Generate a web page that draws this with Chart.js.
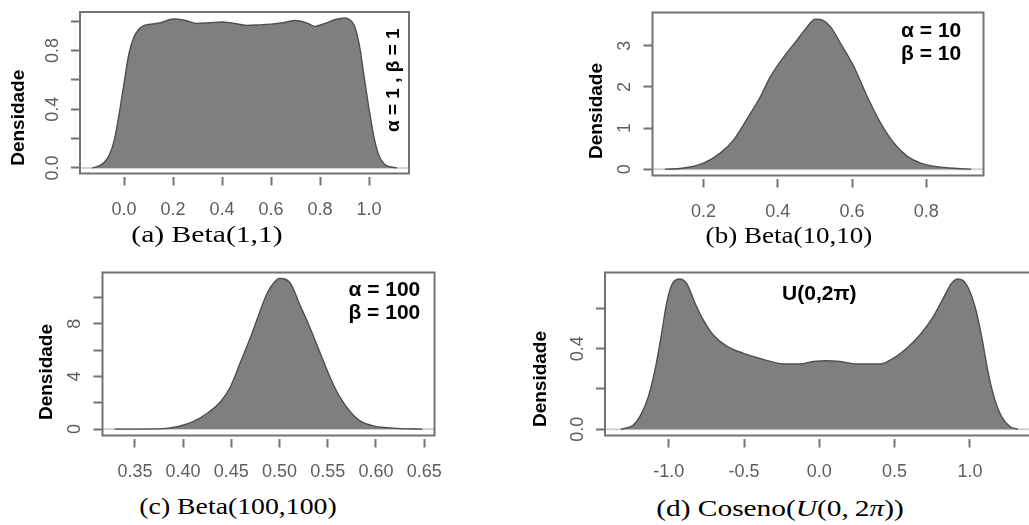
<!DOCTYPE html>
<html>
<head>
<meta charset="utf-8">
<script src="https://cdn.jsdelivr.net/npm/chart.js@4.4.1/dist/chart.umd.min.js"></script>
<style>
  html, body { margin: 0; padding: 0; background: #fff; }
  #page { position: relative; width: 1029px; height: 525px; overflow: hidden; background: #fff; }
  #page canvas { position: absolute; filter: blur(0.3px); }
  .cap {
    position: absolute; white-space: nowrap; color: #000;
    font-family: 'Liberation Serif', 'Times New Roman', serif; font-size: 23px; line-height: 1;
  }
</style>
</head>
<body>
<div id="page">
  <canvas id="panelA" width="420" height="225" style="left:0px;top:0px"></canvas>
  <canvas id="panelB" width="440" height="225" style="left:560px;top:0px"></canvas>
  <canvas id="panelC" width="460" height="235" style="left:0px;top:255px"></canvas>
  <canvas id="panelD" width="550" height="235" style="left:500px;top:255px"></canvas>

  <div class="cap" data-w="152" style="left:206.7px;top:234px">(a) Beta(1,1)</div>
  <div class="cap" data-w="167" style="left:789px;top:235px">(b) Beta(10,10)</div>
  <div class="cap" data-w="198" style="left:237.5px;top:506px">(c) Beta(100,100)</div>
  <div class="cap" data-w="248" style="left:780px;top:508px">(d) Coseno(<i>U</i>(0,&thinsp;2<i>π</i>))</div>
</div>

<script>
// ---- Kernel density estimates of the simulated samples ----
// (a) Beta(1,1)
const betaA_x = [-0.13, -0.10, -0.08, -0.06, -0.04, -0.02, 0.00, 0.02, 0.04, 0.06, 0.08, 0.10, 0.15, 0.20, 0.25,
                 0.30, 0.35, 0.40, 0.45, 0.50, 0.55, 0.60, 0.65, 0.70, 0.75, 0.78, 0.82, 0.86, 0.90, 0.92,
                 0.94, 0.96, 0.98, 1.00, 1.02, 1.04, 1.06, 1.08, 1.113];
const betaA_y = [0.000, 0.015, 0.04, 0.09, 0.19, 0.37, 0.58, 0.78, 0.89, 0.945, 0.97, 0.978, 0.99, 1.015, 1.005,
                 0.985, 0.99, 0.995, 0.985, 0.972, 0.975, 0.98, 0.99, 1.005, 0.985, 0.965, 0.985, 1.01, 1.022, 1.012,
                 0.97, 0.84, 0.62, 0.40, 0.21, 0.085, 0.03, 0.01, 0.000];

// (b) Beta(10,10)
const betaB_x = [0.096, 0.142, 0.200, 0.245, 0.281, 0.321, 0.353, 0.380, 0.416, 0.452, 0.479, 0.501,
                 0.515, 0.542, 0.569, 0.605, 0.641, 0.677, 0.713, 0.749, 0.785, 0.830, 0.875, 0.921];
const betaB_y = [0.00, 0.02, 0.145, 0.39, 0.71, 1.28, 1.76, 2.25, 2.73, 3.14, 3.46, 3.65,
                 3.64, 3.46, 3.06, 2.49, 1.76, 1.12, 0.63, 0.31, 0.145, 0.06, 0.02, 0.00];

// (c) Beta(100,100)
const betaC_x = [0.329, 0.375, 0.395, 0.411, 0.425, 0.439, 0.449, 0.459, 0.469, 0.478, 0.487, 0.495, 0.500,
                 0.511, 0.521, 0.531, 0.541, 0.552, 0.562, 0.573, 0.583, 0.597, 0.612, 0.625, 0.648];
const betaC_y = [0.00, 0.02, 0.20, 0.58, 1.20, 2.10, 3.20, 5.00, 6.80, 8.60, 10.30, 11.20, 11.45,
                 11.10, 9.45, 7.80, 6.00, 4.00, 2.50, 1.34, 0.65, 0.25, 0.10, 0.04, 0.00];

// (d) cos(U), U ~ U(0, 2π)
const cosD_x = [-1.318, -1.305, -1.235, -1.180, -1.135, -1.091, -1.047, -1.014, -0.980, -0.929, -0.881, -0.825,
                -0.770, -0.704, -0.615, -0.504, -0.372, -0.239, -0.128, -0.040, 0.049, 0.137, 0.248, 0.403,
                0.491, 0.580, 0.668, 0.757, 0.823, 0.879, 0.923, 0.979, 1.034, 1.078, 1.122, 1.166, 1.210,
                1.266, 1.310, 1.318];
const cosD_y = [0.000, 0.002, 0.021, 0.079, 0.162, 0.294, 0.476, 0.625, 0.716, 0.746, 0.724, 0.625,
                0.542, 0.468, 0.413, 0.377, 0.347, 0.324, 0.324, 0.336, 0.340, 0.336, 0.324, 0.324,
                0.352, 0.402, 0.468, 0.559, 0.650, 0.725, 0.746, 0.716, 0.608, 0.460, 0.278, 0.145, 0.063,
                0.013, 0.002, 0.000];

// ---- Axis ticks and their labels ----
const ticksA_x = [0, 0.2, 0.4, 0.6, 0.8, 1.0];
const labelsA_x = ['0.0', '0.2', '0.4', '0.6', '0.8', '1.0'];
const ticksA_y = [0, 0.2, 0.4, 0.6, 0.8, 1.0];
const labelsA_y = ['0.0', '', '0.4', '', '0.8', ''];

const ticksB_x = [0.2, 0.4, 0.6, 0.8];
const labelsB_x = ['0.2', '0.4', '0.6', '0.8'];
const ticksB_y = [0, 1, 2, 3];
const labelsB_y = ['0', '1', '2', '3'];

const ticksC_x = [0.35, 0.40, 0.45, 0.50, 0.55, 0.60, 0.65];
const labelsC_x = ['0.35', '0.40', '0.45', '0.50', '0.55', '0.60', '0.65'];
const ticksC_y = [0, 2, 4, 6, 8, 10];
const labelsC_y = ['0', '', '4', '', '8', ''];

const ticksD_x = [-1.0, -0.5, 0.0, 0.5, 1.0];
const labelsD_x = ['-1.0', '-0.5', '0.0', '0.5', '1.0'];
const ticksD_y = [0, 0.2, 0.4, 0.6];
const labelsD_y = ['0.0', '', '0.4', ''];

// ---- Text ----
const yAxisTitle = 'Densidade';
const noteA = ['α = 1 , β = 1'];
const noteB = ['α = 10', 'β = 10'];
const noteC = ['α = 100', 'β = 100'];
const noteD = ['U(0,2π)'];

const BOLD_FONT = "'Liberation Sans', Arial, sans-serif";

// Tick labels use a narrow sans face when one is installed
function hasFamily(name) {
  const c = document.createElement('canvas').getContext('2d');
  const probe = '0.123456789 -0.5';
  return ['monospace', 'serif'].some(base => {
    c.font = '40px ' + base;
    const w0 = c.measureText(probe).width;
    c.font = "40px '" + name + "', " + base;
    return c.measureText(probe).width !== w0;
  });
}
const narrowFace = ['Liberation Sans Narrow', 'Arial Narrow', 'Nimbus Sans Narrow'].find(hasFamily);
const TICK_FONT = narrowFace ? "'" + narrowFace + "', sans-serif" : "'Liberation Sans', Arial, sans-serif";
const TICK_SIZE = narrowFace ? 19 : 18;

// Frame, rotated y title and in-plot note
function makeDecor(p) {
  return {
    id: 'decor',
    afterDraw(chart) {
      const { ctx, chartArea: a, scales: { x, y } } = chart;
      ctx.save();
      ctx.strokeStyle = '#737373';
      ctx.lineWidth = 2;
      ctx.strokeRect(a.left, a.top, a.right - a.left, a.bottom - a.top);

      ctx.fillStyle = '#000';
      ctx.textAlign = 'center';
      ctx.textBaseline = 'middle';
      ctx.font = 'bold 19px ' + BOLD_FONT;
      ctx.save();
      ctx.translate(a.left + p.titleDx, (a.top + a.bottom) / 2 + p.titleDy);
      ctx.rotate(-Math.PI / 2);
      ctx.fillText(yAxisTitle, 0, 0);
      ctx.restore();

      ctx.font = 'bold ' + p.noteSize + 'px ' + BOLD_FONT;
      ctx.translate(x.getPixelForValue(p.noteAt[0]), y.getPixelForValue(p.noteAt[1]));
      if (p.noteRotate) ctx.rotate(-Math.PI / 2);
      const n = p.note.length;
      p.note.forEach((line, i) => ctx.fillText(line, 0, (i - (n - 1) / 2) * p.noteGap));
      ctx.restore();
    }
  };
}

function densityPanel(id, p) {
  const points = p.xs.map((v, i) => ({ x: v, y: p.ys[i] }));
  const zeroLine = [{ x: p.xRange[0], y: 0 }, { x: p.xRange[1], y: 0 }];
  const halfTick = TICK_SIZE * 0.6;
  return new Chart(document.getElementById(id), {
    type: 'line',
    data: {
      datasets: [
        { data: zeroLine, borderColor: '#d2d2d2', borderWidth: 2, pointRadius: 0, fill: false, order: 2 },
        { data: points, borderColor: '#4f4f4f', borderWidth: 1.4, backgroundColor: '#7f7f7f',
          fill: 'origin', pointRadius: 0, cubicInterpolationMode: 'monotone', order: 1 }
      ]
    },
    options: {
      responsive: false,
      animation: false,
      events: [],
      layout: { padding: p.pad },
      plugins: { legend: { display: false }, tooltip: { enabled: false } },
      scales: {
        x: {
          type: 'linear', min: p.xRange[0], max: p.xRange[1],
          afterBuildTicks: s => { s.ticks = p.xTicks.map(v => ({ value: v })); },
          afterFit: s => { s.height = p.xAxisH; s.paddingLeft = 0; s.paddingRight = 0; },
          border: { display: false },
          grid: { drawOnChartArea: false, drawTicks: true, tickLength: 12, tickColor: '#737373', tickWidth: 2,
                  tickBorderDash: [9, 100], tickBorderDashOffset: -3 },
          ticks: { autoSkip: false, minRotation: 0, maxRotation: 0, padding: 24.2 - halfTick, color: '#5e5e5e',
                   font: { family: TICK_FONT, size: TICK_SIZE }, callback: (v, i) => p.xLabels[i] }
        },
        y: {
          type: 'linear', min: p.yRange[0], max: p.yRange[1],
          afterBuildTicks: s => { s.ticks = p.yTicks.map(v => ({ value: v })); },
          afterFit: s => { s.width = p.yAxisW; s.paddingTop = 0; s.paddingBottom = 0; },
          border: { display: false },
          grid: { drawOnChartArea: false, drawTicks: true, tickLength: 9, tickColor: '#737373', tickWidth: 2 },
          ticks: {
            autoSkip: false, minRotation: 90, maxRotation: 90, crossAlign: 'center',
            color: '#5e5e5e', font: { family: TICK_FONT, size: TICK_SIZE },
            callback: (v, i) => p.yLabels[i],
            padding: 0
          }
        }
      }
    },
    plugins: [makeDecor(p), {
      // rotated y labels: centre them about 27px left of the frame
      id: 'yLabelOffset',
      beforeUpdate(chart) {
        const c = chart.ctx;
        c.save();
        c.font = TICK_SIZE + 'px ' + TICK_FONT;
        const widest = Math.max(...p.yLabels.map(t => c.measureText(t).width));
        c.restore();
        chart.options.scales.y.ticks.padding = Math.max(27 - 9 - widest / 2, 0);
      }
    }]
  });
}

densityPanel('panelA', {
  xs: betaA_x, ys: betaA_y, xRange: [-0.18, 1.163], yRange: [-0.038, 1.063],
  xTicks: ticksA_x, xLabels: labelsA_x, yTicks: ticksA_y, yLabels: labelsA_y,
  pad: { left: 0, top: 12, right: 11, bottom: 0 }, yAxisW: 80, xAxisH: 51.5,
  titleDx: -61, titleDy: 25, note: noteA, noteAt: [1.099, 0.598], noteSize: 19, noteGap: 0, noteRotate: true
});

densityPanel('panelB', {
  xs: betaB_x, ys: betaB_y, xRange: [0.0625, 0.954], yRange: [-0.155, 3.81],
  xTicks: ticksB_x, xLabels: labelsB_x, yTicks: ticksB_y, yLabels: labelsB_y,
  pad: { left: 0, top: 12.5, right: 16.5, bottom: 0 }, yAxisW: 92.5, xAxisH: 49.5,
  titleDx: -55.5, titleDy: 17, note: noteB, noteAt: [0.813, 3.07], noteSize: 21, noteGap: 23.5
});

densityPanel('panelC', {
  xs: betaC_x, ys: betaC_y, xRange: [0.3164, 0.6607], yRange: [-0.486, 11.9],
  xTicks: ticksC_x, xLabels: labelsC_x, yTicks: ticksC_y, yLabels: labelsC_y,
  pad: { left: 0, top: 17.5, right: 25.5, bottom: 0 }, yAxisW: 102.5, xAxisH: 54.5,
  titleDx: -56.2, titleDy: 18, note: noteC, noteAt: [0.6087, 9.69], noteSize: 21, noteGap: 23.5
});

densityPanel('panelD', {
  xs: cosD_x, ys: cosD_y, xRange: [-1.423, 1.423], yRange: [-0.031, 0.778],
  xTicks: ticksD_x, xLabels: labelsD_x, yTicks: ticksD_y, yLabels: labelsD_y,
  pad: { left: 0, top: 17.5, right: 16.4, bottom: 0 }, yAxisW: 105, xAxisH: 54.5,
  titleDx: -64.6, titleDy: 25, note: noteD, noteAt: [0.0, 0.671], noteSize: 21, noteGap: 0
});

// Captions: centred on their anchor and set to the subfigure caption width
document.querySelectorAll('.cap').forEach(el => {
  const k = parseFloat(el.dataset.w) / el.offsetWidth;
  el.style.transform = 'translate(-50%, -50%) scaleX(' + k.toFixed(3) + ')';
});
</script>
</body>
</html>
